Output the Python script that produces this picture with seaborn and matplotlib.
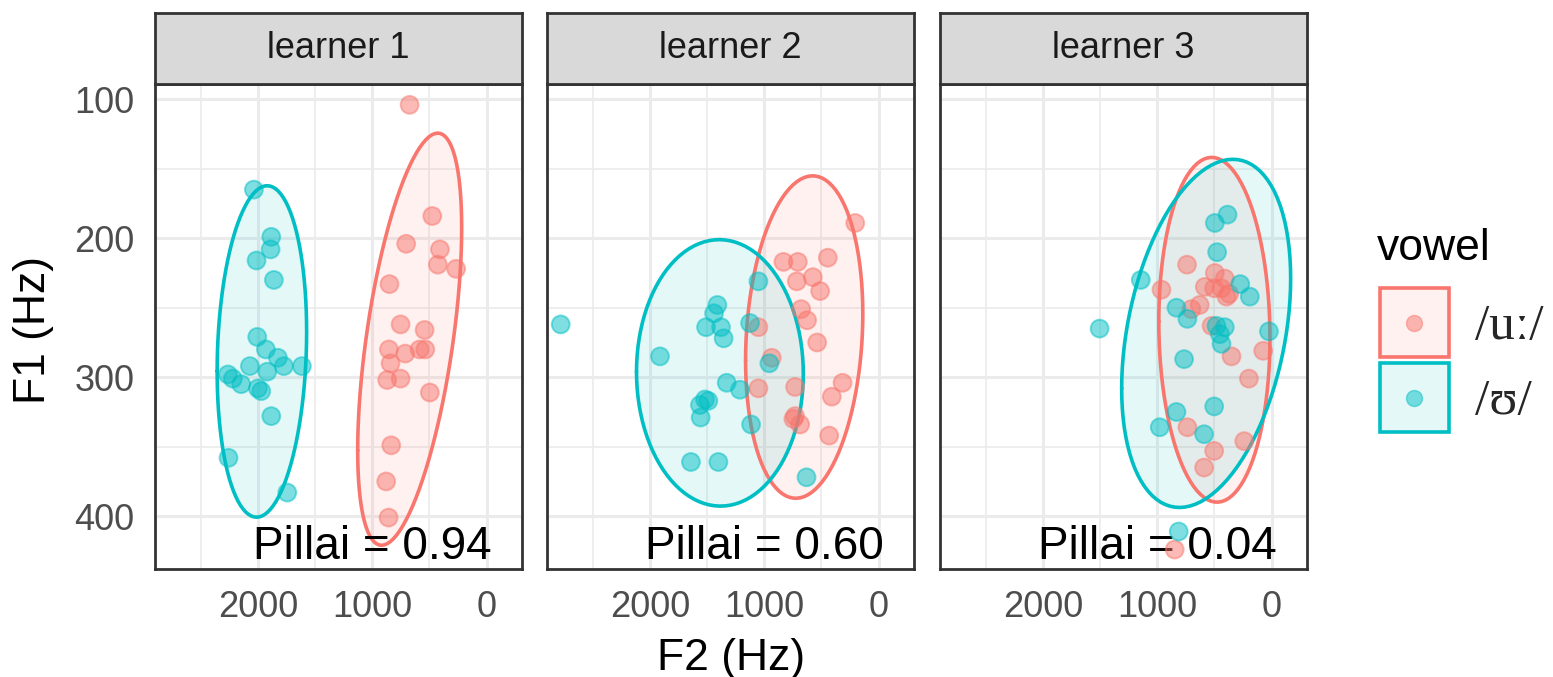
import numpy as np
import pandas as pd
import matplotlib
matplotlib.use("Agg")
import matplotlib.pyplot as plt
import seaborn as sns
from matplotlib.patches import Rectangle
from matplotlib.lines import Line2D
from matplotlib.ticker import MultipleLocator, FixedLocator

# ---------------- data ----------------
learners = ["learner 1", "learner 2", "learner 3"]
vowels = ["/uː/", "/ʊ/"]
pillai = ["0.94", "0.60", "0.04"]

# learner 1
l1_u_f2 = [673, 475, 703, 408, 426, 266, 849, 752, 542, 854, 711, 586, 536, 840, 869, 752, 496, 834, 878, 857]
l1_u_f1 = [104, 184, 204, 208, 219, 222, 233, 262, 266, 280, 283, 280, 280, 290, 302, 301, 311, 349, 375, 401]
l1_v_f2 = [2035, 1883, 1889, 2012, 1860, 2006, 1930, 1825, 1773, 1615, 2070, 1918, 2262, 2219, 2146, 2000, 1971, 1883, 2257, 1743]
l1_v_f1 = [165, 199, 208, 216, 230, 271, 280, 286, 292, 292, 292, 296, 298, 301, 305, 308, 310, 328, 358, 383]
# learner 2
l2_u_f2 = [204, 832, 706, 444, 715, 575, 511, 677, 625, 1051, 537, 934, 1051, 730, 315, 409, 730, 686, 432, 745]
l2_u_f1 = [189, 217, 217, 214, 231, 228, 238, 251, 259, 264, 275, 286, 308, 307, 304, 314, 328, 334, 342, 330]
l2_v_f2 = [2780, 1912, 1410, 1439, 1378, 1509, 1355, 1124, 1051, 955, 1328, 1212, 1518, 1489, 1562, 1556, 1115, 1641, 1401, 630]
l2_v_f1 = [262, 285, 248, 254, 264, 264, 272, 261, 231, 290, 304, 309, 316, 317, 320, 329, 334, 361, 361, 372]
# learner 3
l3_u_f2 = [739, 963, 496, 409, 584, 502, 438, 371, 701, 628, 525, 350, 73, 198, 736, 502, 239, 590, 847, 394]
l3_u_f1 = [219, 237, 225, 229, 235, 236, 236, 240, 251, 248, 263, 285, 281, 301, 336, 353, 346, 365, 424, 242]
l3_v_f2 = [385, 496, 476, 1144, 274, 190, 832, 736, 1504, 482, 409, 452, 438, 23, 765, 502, 832, 978, 590, 812]
l3_v_f1 = [183, 189, 210, 230, 233, 242, 250, 258, 265, 263, 264, 269, 276, 267, 287, 321, 325, 336, 341, 411]

x_ticks = [2000, 1000, 0]
y_ticks = [100, 200, 300, 400]

series = {
    ("learner 1", "/uː/"): (l1_u_f2, l1_u_f1),
    ("learner 1", "/ʊ/"): (l1_v_f2, l1_v_f1),
    ("learner 2", "/uː/"): (l2_u_f2, l2_u_f1),
    ("learner 2", "/ʊ/"): (l2_v_f2, l2_v_f1),
    ("learner 3", "/uː/"): (l3_u_f2, l3_u_f1),
    ("learner 3", "/ʊ/"): (l3_v_f2, l3_v_f1),
}
rows = []
for (lr, vw), (f2, f1) in series.items():
    for a, b in zip(f2, f1):
        rows.append({"learner": lr, "vowel": vw, "F2": a, "F1": b})
df = pd.DataFrame(rows)

# ---------------- style ----------------
sns.set_theme(style="white")
SANS = ["Liberation Sans", "DejaVu Sans"]
SERIF = ["Liberation Serif", "DejaVu Serif"]
plt.rcParams["font.family"] = SANS

colors = {"/uː/": "#F8766D", "/ʊ/": "#00BFC4"}


def cov_trob(x, nu=5, maxit=25, tol=0.01):
    n, p = x.shape
    wt = np.ones(n)
    loc = x.mean(axis=0)
    w = np.sqrt(wt)
    X = x - loc
    for _ in range(maxit):
        w0 = w
        X = x - loc
        A = np.sqrt(w / w.sum())[:, None] * X
        _, d, vt = np.linalg.svd(A, full_matrices=False)
        wX = X @ vt.T @ np.diag(1.0 / d)
        Q = (wX ** 2).sum(axis=1)
        w = (wt * (nu + p)) / (nu + Q)
        loc = (w[:, None] * x).sum(axis=0) / w.sum()
        if np.all(np.abs(w - w0) < tol):
            break
    sw = np.sqrt(w)[:, None] * X
    cov = sw.T @ sw / wt.sum()
    return cov, loc


def stat_ellipse(xv, yv, level=0.95, segments=100):
    pts = np.column_stack([xv, yv]).astype(float)
    n = len(pts)
    cov, center = cov_trob(pts)
    R = np.linalg.cholesky(cov).T
    dfd = n - 1
    qf = dfd / 2.0 * ((1 - level) ** (-2.0 / dfd) - 1)  # F(2, dfd) quantile
    radius = np.sqrt(2 * qf)
    ang = np.linspace(0, 2 * np.pi, segments + 1)
    circ = np.column_stack([np.cos(ang), np.sin(ang)])
    ell = center + radius * (circ @ R)
    return ell[:, 0], ell[:, 1]


class KeyHandler:
    """Legend key: outlined light box with a semi-transparent dot in the centre."""
    def legend_artist(self, legend, orig_handle, fontsize, handlebox):
        x0, y0 = -handlebox.xdescent, -handlebox.ydescent
        w, h = handlebox.width, handlebox.height
        c = orig_handle.get_edgecolor()
        tr = handlebox.get_transform()
        rect = Rectangle((x0, y0), w, h, facecolor=matplotlib.colors.to_rgba(c, 0.1),
                         edgecolor=c, lw=2.6, transform=tr)
        dot = Line2D([x0 + w / 2], [y0 + h / 2], marker="o", linestyle="none",
                     markersize=11.5, markerfacecolor=c, markeredgecolor=c,
                     alpha=0.5, transform=tr)
        handlebox.add_artist(rect)
        handlebox.add_artist(dot)
        return rect


W, H = 1553, 677
fig = plt.figure(figsize=(W / 100, H / 100), dpi=100)

panel_left = [155, 547, 940]
panel_w = 367
ax_bottom = (H - 569) / H
ax_h = (569 - 84) / H
strip_bottom = (H - 84) / H
strip_h = (84 - 13) / H
border = "#333333"

for i, lr in enumerate(learners):
    x0 = panel_left[i] / W
    ax = fig.add_axes([x0, ax_bottom, panel_w / W, ax_h])
    sub = df[df.learner == lr]
    for vw in vowels:
        s = sub[sub.vowel == vw]
        ex, ey = stat_ellipse(s.F2.values, s.F1.values)
        ax.fill(ex, ey, facecolor=colors[vw], alpha=0.1, edgecolor="none", zorder=2)
        ax.plot(ex, ey, color=colors[vw], lw=2.6, zorder=2.2)
    ax.text(1000, 431, f"Pillai = {pillai[i]}", ha="center", va="baseline",
            fontsize=33, color="black", zorder=2.5)
    sns.scatterplot(data=sub, x="F2", y="F1", hue="vowel", hue_order=vowels,
                    palette=colors, s=165, alpha=0.5, edgecolor="face",
                    linewidth=1.4, legend=False, ax=ax, zorder=3)
    ax.set_xlim(2900, -310)
    ax.set_ylim(438, 89)
    ax.xaxis.set_major_locator(FixedLocator(x_ticks))
    ax.yaxis.set_major_locator(FixedLocator(y_ticks))
    ax.xaxis.set_minor_locator(MultipleLocator(500))
    ax.yaxis.set_minor_locator(MultipleLocator(50))
    ax.set_axisbelow(True)
    ax.grid(which="major", color="#EBEBEB", lw=2.2, zorder=0)
    ax.grid(which="minor", color="#EBEBEB", lw=1.2, zorder=0)
    ax.set_xlabel("")
    ax.set_ylabel("")
    for sp in ax.spines.values():
        sp.set_color(border)
        sp.set_linewidth(2)
    ax.tick_params(axis="both", which="major", length=8, width=2, color=border,
                   labelsize=26, labelcolor="#4D4D4D", pad=7)
    ax.tick_params(which="minor", length=0)
    if i > 0:
        ax.tick_params(axis="y", left=False, labelleft=False)

    sax = fig.add_axes([x0, strip_bottom, panel_w / W, strip_h])
    sax.set_facecolor("#D9D9D9")
    sax.set_xticks([])
    sax.set_yticks([])
    for sp in sax.spines.values():
        sp.set_color(border)
        sp.set_linewidth(2)
    sax.text(0.5, 0.5, lr, ha="center", va="center", fontsize=26,
             color="#1A1A1A", transform=sax.transAxes)

fig.text(731.5 / W, 1 - 670 / H, "F2 (Hz)", ha="center", va="baseline", fontsize=32, color="black")
fig.text(33 / W, 1 - 330 / H, "F1 (Hz)", ha="center", va="center", rotation=90, fontsize=32, color="black")

# legend
fig.text(1377 / W, 1 - 260 / H, "vowel", ha="left", va="baseline", fontsize=32, color="black")
handles = [Rectangle((0, 0), 1, 1, edgecolor=colors[vw], facecolor="none") for vw in vowels]
leg = fig.legend(handles=handles, labels=vowels,
                 handler_map={Rectangle: KeyHandler()},
                 loc="upper left", bbox_to_anchor=(1380 / W, 1 - 288 / H),
                 frameon=False,
                 prop={"family": SERIF, "size": 37},
                 handlelength=1.34, handleheight=1.69, labelspacing=0.12,
                 handletextpad=0.5, borderpad=0, borderaxespad=0)

fig.savefig("out.png", dpi=100)
